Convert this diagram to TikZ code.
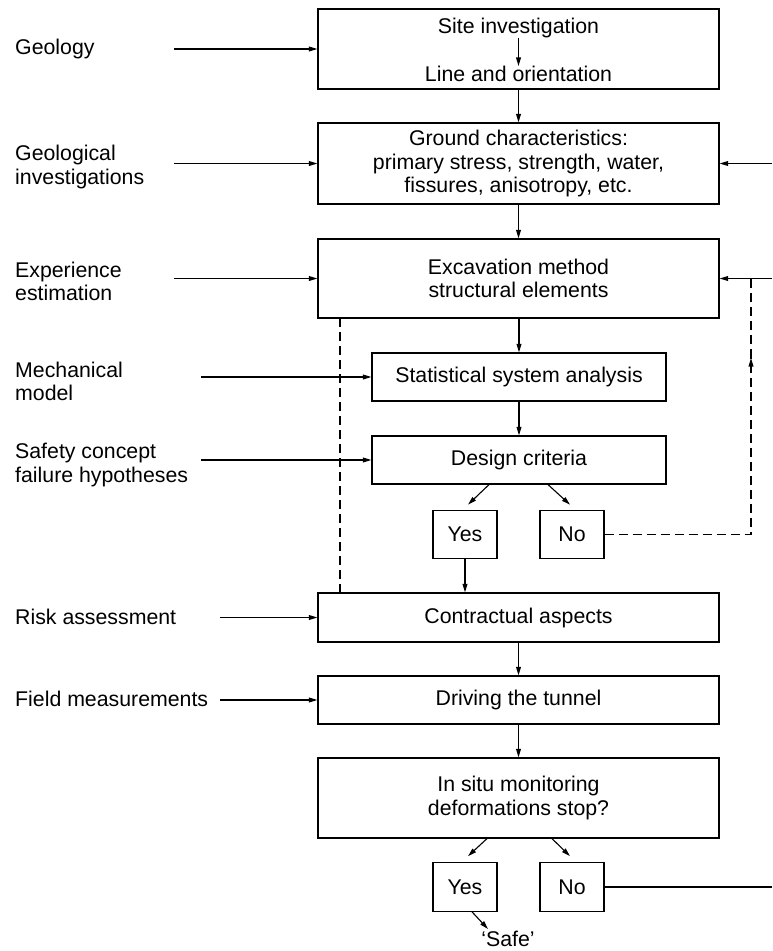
\documentclass[tikz,border=0pt]{standalone}
\usepackage{fontspec}
\setmainfont{Liberation Sans}
\usetikzlibrary{arrows.meta,calc}
\begin{document}
\begin{tikzpicture}[x=1pt,y=-1pt,
  every node/.style={font=\fontsize{21.3}{23.5}\selectfont, inner sep=0pt},
  box/.style={draw, line width=1.2pt, align=center},
  wide/.style={box, minimum width=401pt},
  mid/.style={box, minimum width=294pt, minimum height=48pt},
  small/.style={box, minimum width=64pt, minimum height=48.5pt},
  lab/.style={anchor=west, align=left},
  arr/.style={line width=1.1pt, -{Triangle[length=8.5pt,width=4.8pt]}},
  ln/.style={line width=1.1pt},
  dsh/.style={line width=1.1pt, dash pattern=on 9pt off 5pt}]
\useasboundingbox (0,0) rectangle (772,951);

% main column
\node[wide, minimum height=80pt] (b1) at (518.5,49) {};
\node (site) at (518.5,28) {Site investigation};
\node (line) at (518.5,74) {Line and orientation};
\node[wide, minimum height=81pt] (b2) at (518.5,163.5) {Ground characteristics:\\primary stress, strength, water,\\fissures, anisotropy, etc.};
\node[wide, minimum height=79pt] (b3) at (518.5,278.5) {Excavation method\\structural elements};
\node[mid] (b4) at (519,377) {Statistical system analysis};
\node[mid] (b5) at (519,460) {Design criteria};
\node[small] (yes1) at (465,534.5) {Yes};
\node[small] (no1) at (572,534.5) {No};
\node[wide, minimum height=49pt] (b6) at (518.5,617.5) {Contractual aspects};
\node[wide, minimum height=48pt] (b7) at (518.5,700) {Driving the tunnel};
\node[wide, minimum height=80pt] (b8) at (518.5,798) {In situ monitoring\\deformations stop?};
\node[small] (yes2) at (465,887) {Yes};
\node[small] (no2) at (572,887) {No};
\node (safe) at (508,939) {‘Safe’};

% left labels
\node[lab] (l1) at (15,49) {Geology};
\node[lab] (l2) at (15,167) {Geological\\investigations};
\node[lab] (l3) at (15,281.5) {Experience\\estimation};
\node[lab] (l4) at (15,381.5) {Mechanical\\model};
\node[lab] (l5) at (15,465) {Safety concept\\failure hypotheses};
\node[lab] (l6) at (15,617) {Risk assessment};
\node[lab] (l7) at (15,699) {Field measurements};

% start points of input arrows
\coordinate (s1) at (174,49);
\coordinate (s2) at (174,163.5);
\coordinate (s3) at (174,278.5);
\coordinate (s4) at (201,377);
\coordinate (s5) at (201,460);
\coordinate (s6) at (220,617.5);
\coordinate (s7) at (220,700);
\draw[arr] (s1) -- (b1.west);
\draw[arr] (s2) -- (b2.west);
\draw[arr] (s3) -- (b3.west);
\draw[arr] (s4) -- (b4.west);
\draw[arr] (s5) -- (b5.west);
\draw[arr] (s6) -- (b6.west);
\draw[arr] (s7) -- (b7.west);

% main flow
\draw[arr] (site.south) -- (line.north);
\draw[arr] (b1.south) -- (b2.north);
\draw[arr] (b2.south) -- (b3.north);
\draw[arr] (b3.south -| b4.north) -- (b4.north);
\draw[arr] (b4.south) -- (b5.north);
\draw[arr] ($(b5.south)+(-30,0)$) -- ($(yes1.north)+(3,-5)$);
\draw[arr] ($(b5.south)+(29,0)$) -- ($(no1.north)+(-2,-5)$);
\draw[arr] (yes1.south) -- (yes1.south |- b6.north);
\draw[arr] (b6.south) -- (b7.north);
\draw[arr] (b7.south) -- (b8.north);
\draw[arr] ($(b8.south)+(-31.5,0)$) -- ($(yes2.north)+(3,-6)$);
\draw[arr] ($(b8.south)+(33.5,0)$) -- ($(no2.north)+(-2,-6)$);
\coordinate (se) at (488,929);
\draw[arr] ($(yes2.south)+(7,0)$) -- (se);

% right side feedback
\coordinate (r1) at (772,163.5);
\coordinate (r2) at (772,278.5);
\coordinate (r3) at (772,887);
\coordinate (dc) at (751,534.5);
\coordinate (dm) at (751,358);
\coordinate (dt) at (751,278.5);
\draw[arr] (r1) -- (b2.east);
\draw[arr] (r2) -- (b3.east);
\draw[ln] (no2.east) -- (r3);
\draw[dsh] (no1.east) -- (dc) -- (dm);
\draw[line width=1.1pt, -{Triangle[length=8.5pt,width=4.8pt]}] ($(dm)+(0,6)$) -- (dm);
\draw[dsh] (dm) -- (dt);

% left dashed line
\coordinate (dl1) at (340,318);
\coordinate (dl2) at (340,593);
\draw[dsh] (dl1) -- (dl2);
\end{tikzpicture}
\end{document}
